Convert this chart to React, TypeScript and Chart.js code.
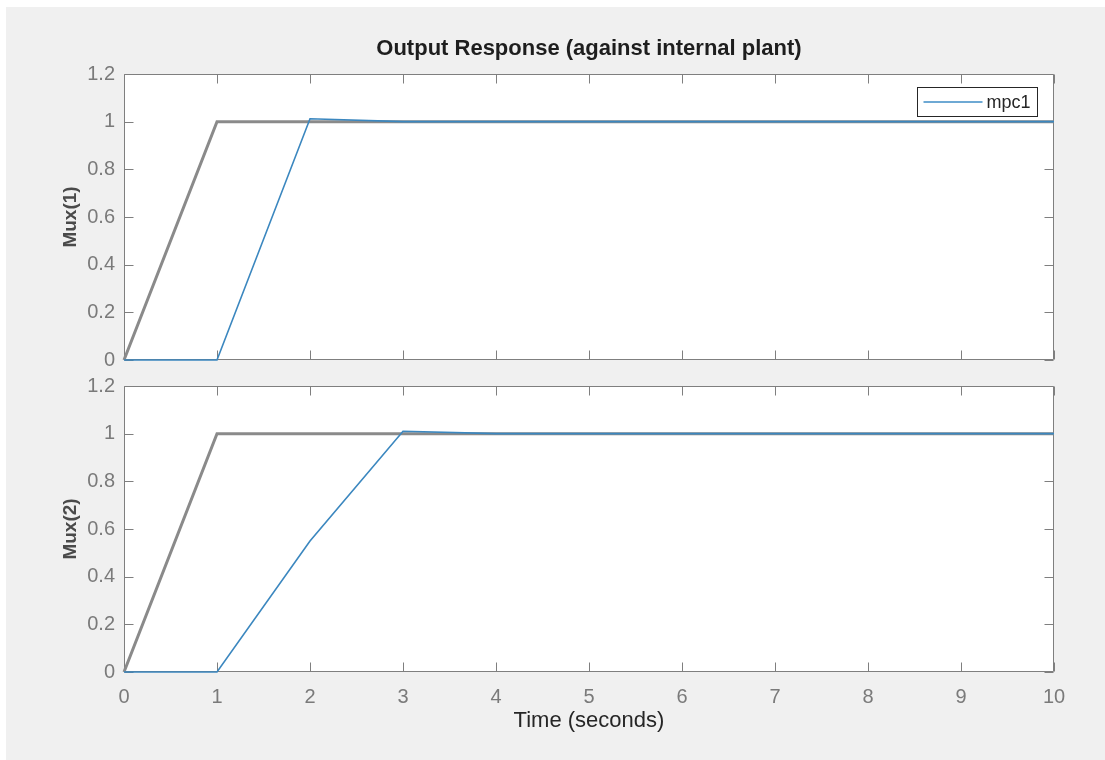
import React, { useEffect, useRef } from "react";
import { Chart, registerables } from "chart.js";

Chart.register(...registerables);

// Setpoint (reference) trajectory shared by both outputs
const timeRef = [0, 1, 10];
const setpoint = [0, 1, 1];

// Controller response, output 1
const timeMux1 = [0, 1, 2, 3, 10];
const mux1 = [0, 0, 1.012, 1.0, 1.0];

// Controller response, output 2
const timeMux2 = [0, 1, 2, 3, 4, 10];
const mux2 = [0, 0, 0.55, 1.01, 1.0, 1.0];

const xTicks = [0, 1, 2, 3, 4, 5, 6, 7, 8, 9, 10];
const yTicks = [0, 0.2, 0.4, 0.6, 0.8, 1, 1.2];

const chartTitle = "Output Response (against internal plant)";
const xTitle = "Time (seconds)";
const yTitles = ["Mux(1)", "Mux(2)"];
const seriesLabel = "mpc1";

const FONT = "'Liberation Sans', Arial, Helvetica, sans-serif";
const AXIS_COLOR = "#7f7f7f";
const TICK_TEXT = "#7a7a7a";
const BLUE = "#3b87bf";
const REF_GRAY = "#8a8a8a";
const TICK_LEN = 9;

const toPoints = (xs: number[], ys: number[]) => xs.map((x, i) => ({ x, y: ys[i] }));

// White plot background, MATLAB-style box with inward ticks, and an in-axes legend
const axesBox = {
  id: "axesBox",
  beforeDraw(chart: any) {
    const { ctx, chartArea: a } = chart;
    ctx.save();
    ctx.fillStyle = "#ffffff";
    ctx.fillRect(a.left, a.top, a.right - a.left, a.bottom - a.top);
    ctx.restore();
  },
  beforeDatasetsDraw(chart: any) {
    const { ctx, chartArea: a, scales } = chart;
    const L = Math.round(a.left) + 0.5;
    const R = Math.round(a.right) - 0.5;
    const T = Math.round(a.top) + 0.5;
    const B = Math.round(a.bottom) - 0.5;
    ctx.save();
    ctx.strokeStyle = AXIS_COLOR;
    ctx.lineWidth = 1;
    ctx.beginPath();
    ctx.rect(L, T, R - L, B - T);
    for (const t of scales.x.ticks) {
      const px = Math.round(scales.x.getPixelForValue(t.value)) + 0.5;
      ctx.moveTo(px, B);
      ctx.lineTo(px, B - TICK_LEN);
      ctx.moveTo(px, T);
      ctx.lineTo(px, T + TICK_LEN);
    }
    for (const t of scales.y.ticks) {
      const py = Math.round(scales.y.getPixelForValue(t.value)) + 0.5;
      ctx.moveTo(L, py);
      ctx.lineTo(L + TICK_LEN, py);
      ctx.moveTo(R, py);
      ctx.lineTo(R - TICK_LEN, py);
    }
    ctx.stroke();
    ctx.restore();
  },
  afterDatasetsDraw(chart: any, _args: any, opts: any) {
    if (!opts || !opts.showLegend) return;
    const { ctx, chartArea: a } = chart;
    const ds = chart.data.datasets[0];
    const w = 120;
    const h = 29;
    const x0 = Math.round(a.right - 17 - w) + 0.5;
    const y0 = Math.round(a.top + 13) + 0.5;
    ctx.save();
    ctx.fillStyle = "#ffffff";
    ctx.fillRect(x0, y0, w, h);
    ctx.strokeStyle = "#262626";
    ctx.lineWidth = 1;
    ctx.strokeRect(x0, y0, w, h);
    ctx.strokeStyle = "#6ea9d4";
    ctx.lineWidth = 2;
    ctx.beginPath();
    ctx.moveTo(x0 + 6, y0 + h / 2);
    ctx.lineTo(x0 + 65, y0 + h / 2);
    ctx.stroke();
    ctx.fillStyle = "#262626";
    ctx.font = `18px ${FONT}`;
    ctx.textBaseline = "middle";
    ctx.textAlign = "left";
    ctx.fillText(ds.label, x0 + 69, y0 + h / 2 + 1);
    ctx.restore();
  },
};

function buildConfig(panel: 0 | 1): any {
  const isTop = panel === 0;
  const t = isTop ? timeMux1 : timeMux2;
  const v = isTop ? mux1 : mux2;
  return {
    type: "line",
    data: {
      datasets: [
        {
          label: seriesLabel,
          data: toPoints(t, v),
          borderColor: BLUE,
          borderWidth: 1.6,
          pointRadius: 0,
          tension: 0,
          clip: false,
        },
        {
          label: "reference",
          data: toPoints(timeRef, setpoint),
          borderColor: REF_GRAY,
          borderWidth: 3,
          pointRadius: 0,
          tension: 0,
          clip: false,
        },
      ],
    },
    options: {
      animation: false,
      responsive: false,
      devicePixelRatio: 1,
      events: [],
      layout: {
        autoPadding: false,
        padding: { top: isTop ? 0 : 13, left: 0, right: 51, bottom: 0 },
      },
      plugins: {
        legend: { display: false },
        tooltip: { enabled: false },
        title: {
          display: isTop,
          text: chartTitle,
          fullSize: false,
          color: "#1e1e1e",
          font: { family: FONT, size: 22, weight: "bold" },
          padding: { top: 36, bottom: 11.6 },
        },
        axesBox: { showLegend: isTop },
      },
      scales: {
        x: {
          type: "linear",
          min: 0,
          max: 10,
          afterBuildTicks: (s: any) => {
            s.ticks = xTicks.map((value) => ({ value }));
          },
          afterFit: (s: any) => {
            s.height = isTop ? 13 : 88;
          },
          grid: { display: false, drawTicks: false },
          border: { display: false },
          ticks: {
            display: !isTop,
            color: TICK_TEXT,
            padding: 13,
            maxRotation: 0,
            autoSkip: false,
            font: { family: FONT, size: 20 },
            callback: (val: any) => String(val),
          },
          title: {
            display: !isTop,
            text: xTitle,
            color: "#262626",
            font: { family: FONT, size: 22 },
            padding: { top: 0, bottom: 26 },
          },
        },
        y: {
          type: "linear",
          min: 0,
          max: 1.2,
          afterBuildTicks: (s: any) => {
            s.ticks = yTicks.map((value) => ({ value }));
          },
          afterFit: (s: any) => {
            s.width = 124;
            s.paddingTop = 0;
            s.paddingBottom = 0;
          },
          grid: { display: false, drawTicks: false },
          border: { display: false },
          ticks: {
            color: TICK_TEXT,
            padding: 9,
            autoSkip: false,
            font: { family: FONT, size: 20 },
            callback: (val: any) => String(val),
          },
          title: {
            display: true,
            text: yTitles[panel],
            color: "#4a4a4a",
            font: { family: FONT, size: 19, weight: "bold" },
            padding: { top: 59, bottom: 0 },
          },
        },
      },
    },
    plugins: [axesBox],
  };
}

function Panel({ panel, top, height }: { panel: 0 | 1; top: number; height: number }) {
  const ref = useRef<HTMLCanvasElement | null>(null);
  useEffect(() => {
    if (!ref.current) return;
    const chart = new Chart(ref.current, buildConfig(panel));
    return () => chart.destroy();
  }, [panel]);
  return (
    <canvas
      ref={ref}
      width={1105}
      height={height}
      style={{ position: "absolute", left: 0, top, width: 1105, height }}
    />
  );
}

export default function App() {
  return (
    <div
      style={{
        position: "absolute",
        left: 0,
        top: 0,
        width: 1105,
        height: 760,
        background: "#ffffff",
        overflow: "hidden",
      }}
    >
      <div
        style={{
          position: "absolute",
          left: 6,
          top: 7,
          right: 0,
          bottom: 0,
          background: "#f0f0f0",
        }}
      />
      <Panel panel={0} top={0} height={373} />
      <Panel panel={1} top={373} height={387} />
    </div>
  );
}
